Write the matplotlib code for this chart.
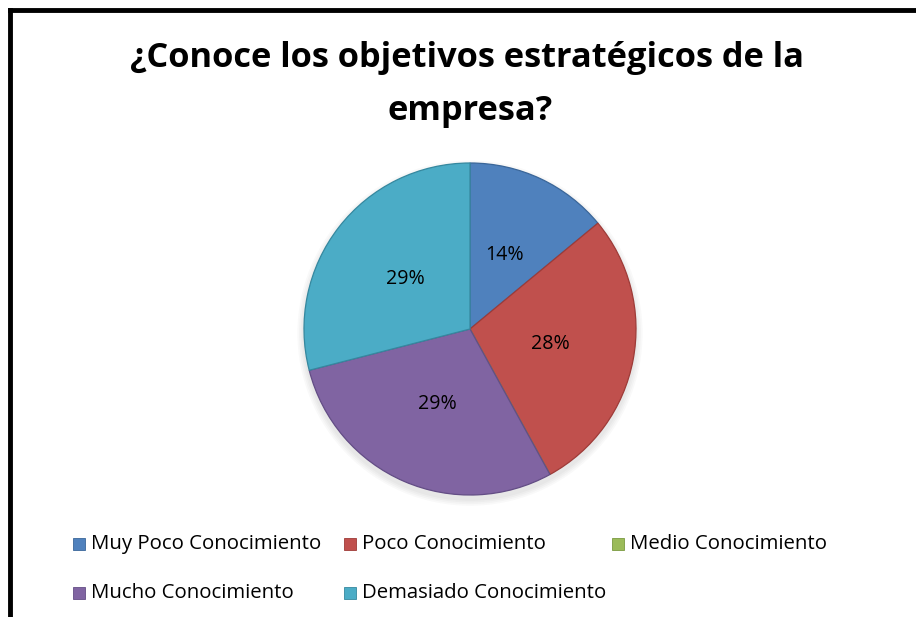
import matplotlib
matplotlib.use("Agg")
import matplotlib.pyplot as plt
from matplotlib.patches import Rectangle, Circle
from matplotlib.lines import Line2D

categories = ["Muy Poco Conocimiento", "Poco Conocimiento", "Medio Conocimiento",
              "Mucho Conocimiento", "Demasiado Conocimiento"]
values = [14, 28, 0, 29, 29]
colors = ["#4F81BD", "#C0504D", "#9BBB59", "#8064A2", "#4BACC6"]
edge_colors = ["#3A6699", "#9E3B38", "#7A9A40", "#634D85", "#35889F"]
title_lines = ["¿Conoce los objetivos estratégicos de la", "empresa?"]

W, H = 916, 617
fig = plt.figure(figsize=(W / 100, H / 100), dpi=100)
fig.patch.set_facecolor("white")
FONT = "Open Sans"

def px(x, y):
    return x / W, 1 - y / H

renderer = fig.canvas.get_renderer()

def fit_text(x, y, s, target_w, weight="normal", ha="center", va="center", color="black"):
    t = fig.text(*px(x, y), s, fontsize=10, fontfamily=FONT, fontweight=weight,
                 ha=ha, va=va, color=color)
    w = t.get_window_extent(renderer).width
    t.set_fontsize(10 * target_w / w)
    return t

# frame (left and top only)
fig.add_artist(Line2D([10 / W, 10 / W], [0, 1 - 10 / H], color="black", lw=3.5,
                      transform=fig.transFigure, solid_capstyle="projecting"))
fig.add_artist(Line2D([10 / W, 1], [1 - 10 / H, 1 - 10 / H], color="black", lw=3.5,
                      transform=fig.transFigure, solid_capstyle="projecting"))

# title
t1 = fit_text(467, 58, title_lines[0], 677, weight="bold")
t2 = fig.text(*px(470, 111), title_lines[1], fontfamily=FONT, fontweight="bold",
              ha="center", va="center")
t2.set_fontsize(t1.get_fontsize())

# pie
cx, cy, r = 470, 329, 166
ax = fig.add_axes([(cx - r) / W, 1 - (cy + r) / H, 2 * r / W, 2 * r / H])

def fmt(p):
    return f"{p:.0f}%" if p > 0.5 else ""

wedges, texts, autotexts = ax.pie(values, colors=colors, startangle=90, counterclock=False,
                                  autopct=fmt, pctdistance=0.49, radius=1.0,
                                  wedgeprops=dict(linewidth=0.9))
ax.set_xlim(-1.0, 1.0)
ax.set_ylim(-1.0, 1.0)
ax.set_aspect("equal")
ax.axis("off")

# soft shadow below the pie
for i in range(4):
    ax.add_patch(Circle((0.0, -0.025), 1.0 + 0.01 * (i + 1), color="black",
                        alpha=0.025, zorder=0, lw=0, clip_on=False))

for w_, ec in zip(wedges, edge_colors):
    w_.set_edgecolor(ec)
    w_.set_zorder(2)
for at in autotexts:
    at.set_fontfamily(FONT)
    at.set_color("black")
    at.set_zorder(3)
    at.set_fontsize(10)
meas = [a for a in autotexts if a.get_text() == "29%"][0]
wm = meas.get_window_extent(renderer).width
for at in autotexts:
    at.set_fontsize(10 * 39 / wm)

# legend (manual layout as in the reference)
leg_pos = [(73, 544), (344, 544), (612, 544), (73, 593), (344, 593)]
ms = 12
lt = None
for (lx, ly), name, c, ec in zip(leg_pos, categories, colors, edge_colors):
    fig.add_artist(Rectangle(px(lx, ly + ms / 2), ms / W, ms / H, transform=fig.transFigure,
                             facecolor=c, edgecolor=ec, lw=0.6))
    t = fig.text(*px(lx + 18, ly), name, fontfamily=FONT, fontsize=10, ha="left", va="center")
    if lt is None:
        wl = t.get_window_extent(renderer).width
        lt = 10 * 230 / wl
    t.set_fontsize(lt)

fig.savefig("out.png", dpi=100, facecolor="white")
